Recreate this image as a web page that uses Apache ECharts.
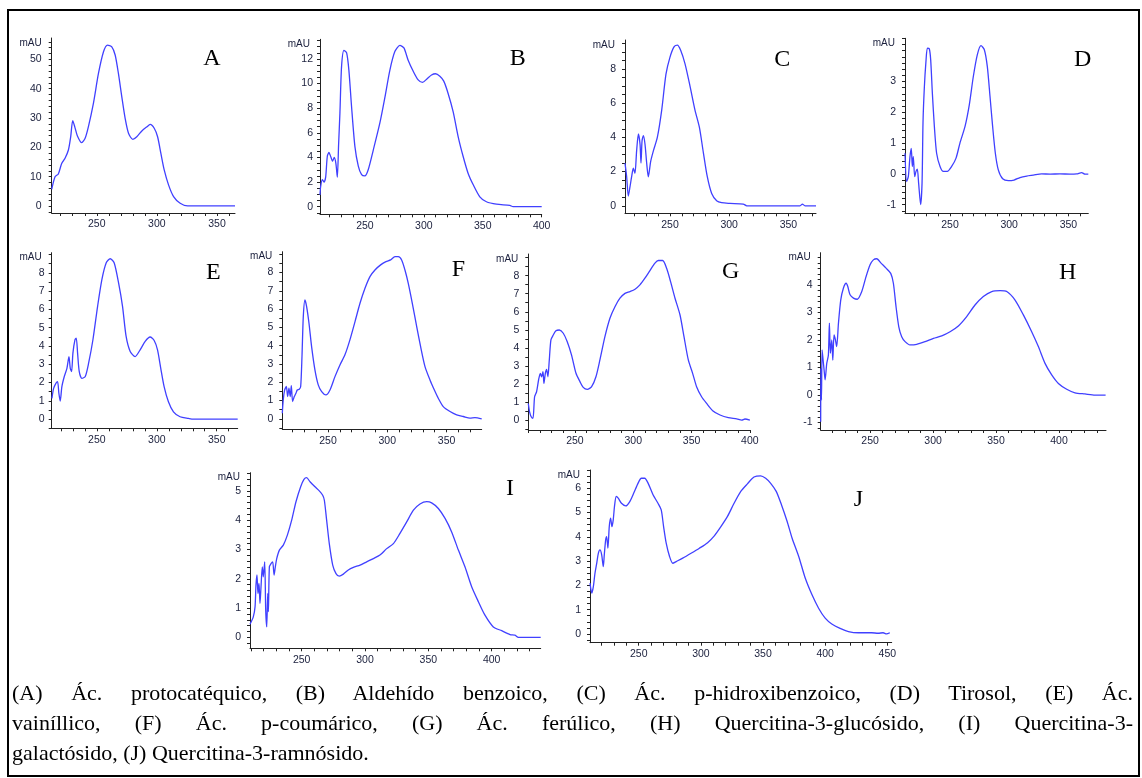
<!DOCTYPE html>
<html>
<head>
<meta charset="utf-8">
<script src="https://cdn.jsdelivr.net/npm/echarts@6/dist/echarts.min.js"></script>
<style>
html,body{margin:0;padding:0;background:#fff;}
#wrap{position:relative;width:1142px;height:778px;overflow:hidden;background:#fff;}
#chart{position:absolute;left:0;top:0;width:1142px;height:778px;}
#frame{position:absolute;left:7px;top:9px;width:1133px;height:768px;box-sizing:border-box;border:2px solid #000;pointer-events:none;}
#caption{position:absolute;left:12px;top:678px;width:1121px;font-family:"Liberation Serif","Times New Roman",serif;font-size:22px;line-height:30px;color:#000;}
#caption div{text-align:justify;white-space:nowrap;}
#caption .j{text-align-last:justify;white-space:normal;}
</style>
</head>
<body>
<div id="wrap">
  <div id="chart"></div>
  <div id="frame"></div>
  <div id="caption">
    <div class="j">(A) Ác. protocatéquico, (B) Aldehído benzoico, (C) Ác. p-hidroxibenzoico, (D) Tirosol, (E) Ác.</div>
    <div class="j">vainíllico, (F) Ác. p-coumárico, (G) Ác. ferúlico, (H) Quercitina-3-glucósido, (I) Quercitina-3-</div>
    <div>galactósido, (J) Quercitina-3-ramnósido.</div>
  </div>
</div>
<script>
// ---------- DATA (wavelength nm / absorbance mAU) ----------
const wlA = [212.5,215.3,218,220.8,223.6,226.4,228.3,230,231.7,233.9,237.5,240.3,243,247.2,251.4,255.6,258.9,262.5,265.3,268,270.8,273.6,276.4,280,283.3,287.5,291.7,294.4,297.8,300.6,303.3,306.1,309.7,313.9,319.4,325.6,365];
const absA = [5.7,10,10.9,14.5,16.3,19.1,23.6,29.1,27,23.9,21.6,23.1,27,35,45.2,52.6,54.9,54.3,51.5,45.2,37.3,29.9,24.8,22.7,23.6,25.6,27,27.8,26.5,23.6,18,12.3,7.2,3.2,0.9,0,0];

const wlB = [211.9,212.4,213.8,215.3,216.7,218.1,219.5,220.9,222.6,224,225.4,226.6,227.7,228.8,230.2,232.2,234.5,236.4,238.7,241.5,244.4,247.2,250,252.8,257.1,262.7,267,271.2,275.4,279.7,283.1,286.7,291,295.2,298.9,302.8,306.5,309.9,313.6,316.9,320.6,324.9,329.1,333.3,337.6,341.8,347.5,353.1,361.6,372.9,375.7,400];
const absB = [0.95,1.6,2.2,2.0,2.4,4.1,4.4,4.1,3.7,4.0,3.5,2.4,5.1,7.6,11.4,12.7,12.5,11.1,8.1,4.9,3.3,2.6,2.5,3.0,4.6,6.8,8.9,11.1,12.6,13.1,12.9,11.9,11.0,10.3,10.1,10.4,10.7,10.8,10.6,10.2,9.2,7.7,5.7,4.1,2.7,1.8,0.8,0.4,0.2,0.1,0,0];

const wlC = [212,213.4,214.8,216.2,217.6,219,220.4,221.8,223.3,224.7,225.5,226.4,227.5,228.9,230.3,231.7,233.7,235.9,239.3,243,246.6,250,253.4,256.2,259,262.7,266.9,271.1,274.8,278.2,281.5,285.2,289.4,293.6,300.7,311.9,314.8,359.8,361.8,364,373.3];
const absC = [2.5,1.7,0.57,1.1,1.7,2.2,1.9,3.2,4.2,3.6,2.5,3.8,4.1,3.6,2.5,1.7,2.6,3.2,4.0,5.6,7.7,8.7,9.3,9.4,9.1,8.3,7.0,5.6,4.6,3.1,1.7,0.72,0.3,0.18,0.14,0.1,0,0,0.1,0,0];

const wlD = [212,213.4,214.8,216.2,217.3,218.2,219,220.2,221.3,222.4,223.5,225.2,226.4,227.2,228.3,229.7,230.9,232.5,233.7,235.1,236.8,238.7,241.6,244.4,247.7,251.4,255.1,258.4,262.7,266.3,269.7,273.1,276.2,279,281.5,283.8,286,288.3,290.8,294.5,299.3,304.1,309.1,314.8,320.4,327.4,334.5,342.9,351.4,357,361.2,364,366.8];
const absD = [0.67,-0.25,-0.09,0.56,0.83,0.24,0.56,-0.09,0.08,0.15,-0.3,-1.0,-0.3,1.65,2.78,3.65,4.08,4.06,3.7,2.62,1.54,0.67,0.24,0.08,0.08,0.24,0.51,1.0,1.54,2.24,3.16,3.87,4.16,4.03,3.49,2.51,1.54,0.67,0.13,-0.16,-0.22,-0.2,-0.12,-0.07,-0.04,0,-0.01,0,-0.01,0,0.04,-0.01,-0.01];

const wlE = [212.5,213.9,215.8,217.2,218.3,219.4,220.8,222.8,225,226.7,227.8,228.9,230,231.7,232.8,233.9,235.3,237.5,240.3,243.1,246.7,250.6,254.2,257.8,261.1,264.4,268.1,271.4,274.4,277.8,281.9,286.1,290.3,294.4,297.8,300.6,303.3,306.1,309.7,313.9,319.4,326.4,330.6,367.5];
const absE = [1.14,1.68,1.96,2.05,1.41,0.99,1.78,2.33,2.78,3.42,2.78,2.6,3.61,4.34,4.43,3.61,2.6,2.23,2.33,3.06,4.34,6.17,7.64,8.55,8.77,8.55,7.45,6.17,4.52,3.7,3.42,3.79,4.25,4.49,4.3,3.79,2.78,1.78,0.95,0.4,0.13,0.04,0,0];

const wlF = [211.5,212.3,213.5,214.9,216,217.1,218.2,219.1,220.2,221.6,223,224.1,225.8,227,228.1,229.2,230.6,232,234,236.2,239,241.8,244.7,248.3,251.7,255.9,260.1,264.3,268.5,272.8,277,281.2,285.4,289.6,294.4,298.9,302.8,306.5,309.3,312.1,314.9,317.7,321.1,324.8,328.1,331.8,336,339.7,343,347.2,352.9,358.5,364.1,369.7,373.9,379.6];
const absF = [0.31,1.04,1.58,1.77,1.22,1.68,1.22,1.82,0.95,1.22,1.4,1.58,1.62,1.77,3.41,5.59,6.5,6.14,5.23,3.95,2.68,1.86,1.49,1.31,1.58,2.31,2.95,3.5,4.32,5.32,6.32,7.14,7.78,8.14,8.42,8.6,8.69,8.87,8.87,8.69,8.14,7.41,6.32,5.05,3.95,2.86,2.13,1.58,1.13,0.67,0.4,0.22,0.13,0.04,0.07,0];

const wlG = [210,211.1,212.5,214,215.4,217.1,218.8,220.3,221.4,222.6,223.4,224.6,225.7,226.8,228,229.4,231.4,233.7,236.6,240,243.4,247.1,250.9,254.3,257.1,260.6,264.3,268,271.4,275.7,280,284.3,288.6,292.9,297.2,301.5,305.7,310,314.3,318.6,321.5,325.2,328.6,332,335.8,340.1,343.5,347.2,350.9,354.3,358.6,362.9,368.1,374.4,381.5,388.7,393,395.8,400];
const absG = [0.92,0.46,0.18,0.09,1.29,1.57,2.22,2.59,2.4,2.68,2.03,2.59,2.81,2.4,3.33,4.44,4.71,4.95,4.99,4.81,4.34,3.6,2.59,2.13,1.81,1.7,1.85,2.4,3.33,4.62,5.64,6.28,6.75,7.02,7.12,7.25,7.49,7.86,8.28,8.69,8.84,8.84,8.41,7.67,6.75,5.82,4.62,3.33,2.59,1.85,1.29,0.92,0.52,0.28,0.13,0.07,0,0.06,0];

const wlH = [210.8,210.9,211.4,211.9,212.7,213.5,214.3,215.6,216.9,217.7,218.5,219.6,220.4,221.4,222.5,223.5,224.9,226.7,228.8,231,232.3,234.1,236.8,239.9,243.4,246.8,250,252.6,255.3,258.7,262.7,266.4,268.5,270.6,272.8,275.1,277.8,281.7,287,293.7,300.3,306.9,313.5,320.1,326.7,333.3,339.9,346.6,353.2,358.5,365.1,371.7,378.3,383.6,388.9,394.2,399.5,406.1,412.7,420.6,428.6,437];
const absH = [-0.97,0.97,-0.18,1.64,1.27,0.91,0.55,1.15,1.45,2.61,1.52,2.0,1.27,2.18,2.0,1.76,2.61,3.45,3.88,4.06,3.94,3.64,3.52,3.48,3.76,4.3,4.73,4.91,4.95,4.79,4.61,4.42,4.06,3.21,2.48,2.12,1.94,1.82,1.84,1.94,2.06,2.15,2.3,2.51,2.85,3.27,3.58,3.76,3.79,3.76,3.45,2.91,2.3,1.76,1.15,0.73,0.42,0.21,0.08,0.04,0,0];

const wlI = [209.2,211.8,213.2,213.9,214.7,215.5,216.3,217.1,217.9,218.9,219.7,220.8,221.6,222.4,223.2,223.7,224.5,225.8,227.1,228.2,229.2,230.3,232.4,235.5,238.7,242.1,245.5,249.2,251.8,253.9,256.6,260.5,263.9,266.6,267.9,269.7,271.8,274.5,277.1,279.7,282.9,286.8,290.8,296.1,301.3,306.6,311.8,317.1,322.4,327.6,332.9,338.2,343.4,348.7,352.6,357.9,363.2,368.4,373.7,378.9,384.2,389.5,394.7,401.3,407.9,414.5,418.4,421.1,438.7];
const absI = [0.45,0.7,1.05,1.78,2.13,1.5,1.84,1.16,1.73,2.41,2.07,2.58,0.93,0.36,1.5,0.88,2.41,2.52,2.58,2.13,2.41,2.69,2.98,3.15,3.49,4.0,4.63,5.14,5.39,5.45,5.31,5.14,5.0,4.85,4.68,4.0,3.2,2.47,2.18,2.09,2.16,2.3,2.39,2.47,2.58,2.69,2.81,3.03,3.2,3.55,3.94,4.34,4.55,4.63,4.59,4.4,4.06,3.6,2.98,2.41,1.73,1.22,0.76,0.36,0.23,0.1,0.08,0,0];

const wlJ = [210.8,212.2,213.5,214.8,216.2,217.5,218.8,220.2,221.5,222.3,223.4,224.2,225.2,226.3,227.4,228.4,229.5,230.5,231.9,233.5,236.1,239.6,242.8,246,249.5,252.1,254.8,257.5,261.5,265.5,268.1,270,272.1,274.8,277.4,280.1,285.4,292.1,298.8,305.4,310.8,316.1,321.4,326.7,332.1,337.4,342.7,348.1,352.1,356,360.6,364.8,369.4,373.4,378.7,384,389.4,394.7,400,405.3,412,418.7,426.7,437.3,442.6,446.6,449.3,452];
const absJ = [2.09,1.68,1.95,2.5,2.91,3.32,3.46,3.26,2.77,3.26,3.87,4.01,3.53,4.42,4.77,4.42,4.7,5.25,5.66,5.59,5.38,5.27,5.45,5.8,6.21,6.41,6.41,6.21,5.73,5.38,5.11,4.42,3.74,3.19,2.91,2.98,3.12,3.32,3.53,3.76,4.04,4.42,4.84,5.38,5.87,6.18,6.46,6.51,6.41,6.21,5.87,5.32,4.63,3.94,3.19,2.29,1.61,1.06,0.65,0.41,0.23,0.1,0.05,0.05,0.03,0.05,0,0.05];

// ---------- TICK LABELS ----------
const xLab3 = [250,300,350];
const xLab4 = [250,300,350,400];
const xLab5 = [250,300,350,400,450];
const yLabA = [0,10,20,30,40,50];
const yLabB = [0,2,4,6,8,10,12];
const yLabC = [0,2,4,6,8];
const yLabD = [-1,0,1,2,3];
const yLabEFG = [0,1,2,3,4,5,6,7,8];
const yLabH = [-1,0,1,2,3,4];
const yLabI = [0,1,2,3,4,5];
const yLabJ = [0,1,2,3,4,5,6];
const panelTags = ['A','B','C','D','E','F','G','H','I','J'];

// ---------- LAYOUT ----------
const panels = [
  {wl:wlA, ab:absA, xl:xLab3, yl:yLabA, ys:2,   box:[51.7,38,183.3,175],    xr:[212.5,365],   yr:[-2.4,57.3],  tp:[212,59],    lm:10},
  {wl:wlB, ab:absB, xl:xLab4, yl:yLabB, ys:0.5, box:[320,39.3,221.7,175],   xr:[211.9,400],   yr:[-0.62,13.6], tp:[517.7,58.7],lm:7},
  {wl:wlC, ab:absC, xl:xLab3, yl:yLabC, ys:0.5, box:[625,40,191,173.3],     xr:[212,373.3],   yr:[-0.44,9.7],  tp:[782.3,59.3],lm:9},
  {wl:wlD, ab:absD, xl:xLab3, yl:yLabD, ys:0.2, box:[905,38.3,183.3,175],   xr:[212,366.8],   yr:[-1.28,4.4],  tp:[1082.7,59.3],lm:9},
  {wl:wlE, ab:absE, xl:xLab3, yl:yLabEFG, ys:0.5, box:[51.7,252.7,186,175.6], xr:[212.3,367.5], yr:[-0.5,9.1],   tp:[213.3,272.3],lm:7},
  {wl:wlF, ab:absF, xl:xLab3, yl:yLabEFG, ys:0.5, box:[282.3,251.7,199.4,177.6], xr:[211.5,379.6], yr:[-0.57,9.14], tp:[458.3,270],lm:9},
  {wl:wlG, ab:absG, xl:xLab4, yl:yLabEFG, ys:0.5, box:[528.3,254,221.7,176], xr:[210,400.1],   yr:[-0.55,9.2],  tp:[730.7,271.7],lm:9},
  {wl:wlH, ab:absH, xl:xLab4, yl:yLabH, ys:0.2, box:[820.7,252.7,285.3,177.3], xr:[210.8,437.3], yr:[-1.27,5.17], tp:[1067.7,272.7],lm:8},
  {wl:wlI, ab:absI, xl:xLab4, yl:yLabI, ys:0.2, box:[250,472.7,290.7,175.6], xr:[209.2,438.7], yr:[-0.37,5.62], tp:[510,488.3],lm:9},
  {wl:wlJ, ab:absJ, xl:xLab5, yl:yLabJ, ys:0.25, box:[590,470,301.7,172.7], xr:[210.8,453.5], yr:[-0.36,6.75], tp:[858.3,500],lm:9}
];

function ticks(min, max, step) {
  const out = [];
  const start = Math.ceil(min / step - 1e-9);
  for (let k = start; k * step <= max + 1e-9; k++) out.push(+(k * step).toFixed(4));
  return out;
}

const AX = '#222';
const LBL = '#1a1f3c';
const FONT = '"Liberation Sans", Arial, sans-serif';
const FS = 10.5;

const grid = [], xAxis = [], yAxis = [], series = [], graphic = [];
panels.forEach((p, i) => {
  grid.push({left:p.box[0], top:p.box[1], width:p.box[2], height:p.box[3], containLabel:false, outerBoundsMode:'none'});
  xAxis.push({
    gridIndex:i, type:'value', min:p.xr[0], max:p.xr[1],
    axisLine:{show:true, onZero:false, lineStyle:{color:AX, width:1}},
    axisTick:{show:true, customValues:ticks(p.xr[0], p.xr[1], 10), length:3, lineStyle:{color:AX, width:1}},
    axisLabel:{show:true, customValues:p.xl, margin:6, fontSize:FS, color:LBL, fontFamily:FONT, hideOverlap:false},
    splitLine:{show:false}
  });
  yAxis.push({
    gridIndex:i, type:'value', min:p.yr[0], max:p.yr[1],
    name:'mAU', nameLocation:'end', nameGap:0, nameMoveOverlap:false,
    nameTextStyle:{fontSize:10, color:LBL, fontFamily:FONT, align:'right', verticalAlign:'top', padding:[0,10,0,0]},
    axisLine:{show:true, onZero:false, lineStyle:{color:AX, width:1}},
    axisTick:{show:true, customValues:ticks(p.yr[0], p.yr[1], p.ys), length:3, lineStyle:{color:AX, width:1}},
    axisLabel:{show:true, customValues:p.yl, margin:p.lm, fontSize:FS, color:LBL, fontFamily:FONT, hideOverlap:false},
    splitLine:{show:false}
  });
  const n = Math.min(p.wl.length, p.ab.length);
  const data = [];
  for (let k = 0; k < n; k++) data.push([p.wl[k], p.ab[k]]);
  series.push({
    type:'line', xAxisIndex:i, yAxisIndex:i, data:data,
    symbol:'none', showSymbol:false, smooth:0.25, clip:true,
    lineStyle:{color:'#4040ff', width:1.3}, silent:true
  });
  graphic.push({
    type:'text', x:p.tp[0], y:p.tp[1], silent:true,
    style:{text:panelTags[i], fill:'#000', font:'24px "Liberation Serif", "Times New Roman", serif', textAlign:'center', textVerticalAlign:'middle'}
  });
});

const chart = echarts.init(document.getElementById('chart'), null, {renderer:'canvas'});
chart.setOption({
  backgroundColor:'#fff',
  animation:false,
  grid, xAxis, yAxis, series, graphic
});
</script>
</body>
</html>
